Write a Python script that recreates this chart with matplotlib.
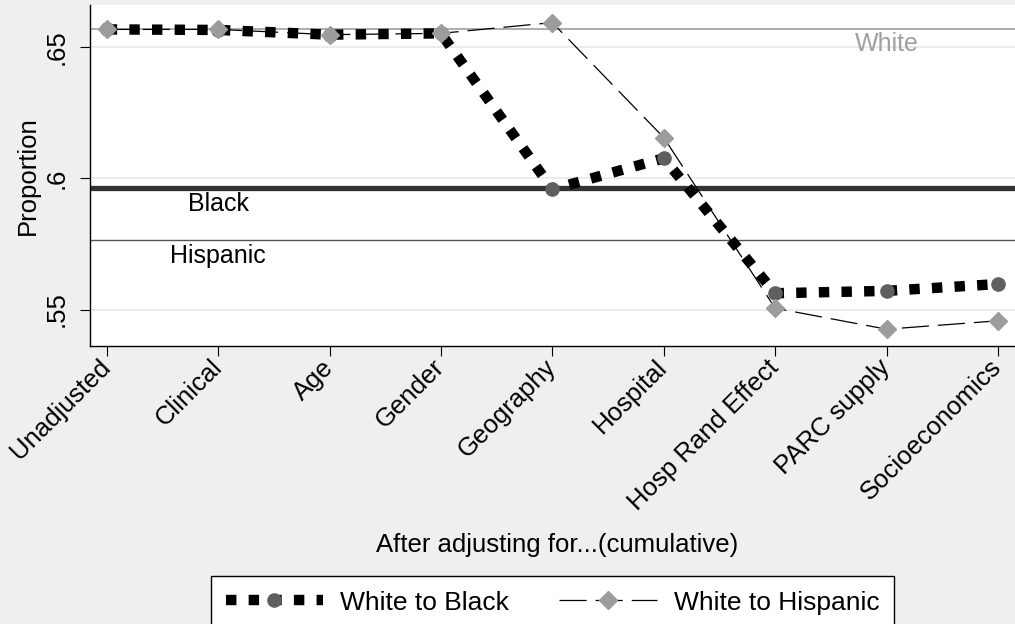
import matplotlib
matplotlib.use('Agg')
import matplotlib.pyplot as plt

plt.rcParams['font.family'] = ['Liberation Sans', 'DejaVu Sans']
plt.rcParams['lines.scale_dashes'] = False

# data
steps = ['Unadjusted', 'Clinical', 'Age', 'Gender', 'Geography', 'Hospital',
         'Hosp Rand Effect', 'PARC supply', 'Socioeconomics']
white_to_black = [0.6567, 0.6565, 0.6547, 0.6552, 0.5958, 0.6076, 0.5562, 0.5571, 0.5597]
white_to_hispanic = [0.6567, 0.6567, 0.6547, 0.6552, 0.6593, 0.6155, 0.5505, 0.5425, 0.5457]

ref_names = ['White', 'Black', 'Hispanic']
ref_values = [0.6567, 0.5964, 0.5766]
ref_label_y = [0.6510, 0.5902, 0.5702]
ref_label_x = [7, 1, 1]

y_ticks = [0.55, 0.6, 0.65]
y_tick_labels = ['.55', '.6', '.65']

fig = plt.figure(figsize=(10.15, 6.24), dpi=100)
fig.patch.set_facecolor('#efefef')
ax = fig.add_axes([90 / 1015, 1 - 346 / 624, 925 / 1015, 341 / 624])
ax.set_facecolor('white')

x = list(range(len(steps)))

# grid
for yt in y_ticks:
    ax.axhline(yt, color='#e8e8e8', lw=1.2, zorder=0)

# reference lines
ref_styles = [dict(color='#a0a0a0', lw=1.2), dict(color='#333333', lw=3.8),
              dict(color='#555555', lw=1.0)]
ref_text_colors = ['#a0a0a0', 'black', 'black']
for v, st in zip(ref_values, ref_styles):
    ax.axhline(v, zorder=1, **st)
for name, tx, ty, c in zip(ref_names, ref_label_x, ref_label_y, ref_text_colors):
    ax.text(tx, ty, name, color=c, fontsize=18, ha='center', va='center', zorder=2)

# series
ax.plot(x, white_to_black, color='black', lw=7.5, dashes=(7.5, 8.8),
        dash_capstyle='butt', marker='o', markersize=9.5,
        markerfacecolor='#5f5f5f', markeredgecolor='#5f5f5f',
        label='White to Black', zorder=3)
ax.plot(x, white_to_hispanic, color='black', lw=0.9, dashes=(19.5, 6.5),
        marker='D', markersize=9.2,
        markerfacecolor='#9c9c9c', markeredgecolor='#9c9c9c',
        label='White to Hispanic', zorder=4)

ax.set_xlim(-0.15, 8.153)
ax.set_ylim(0.5361, 0.666)

ax.set_xticks(x)
ax.set_xticklabels(steps, rotation=45, ha='right', va='center',
                   rotation_mode='anchor', fontsize=18.5)
ax.set_yticks(y_ticks)
ax.set_yticklabels(y_tick_labels, rotation=90, va='center', fontsize=18.5)
ax.tick_params(axis='both', direction='out', length=7.2, width=0.8, color='black')
ax.tick_params(axis='x', pad=5.5)
ax.tick_params(axis='y', pad=8.5)

for s in ['top', 'right']:
    ax.spines[s].set_visible(False)
for s in ['left', 'bottom']:
    ax.spines[s].set_linewidth(1.0)

ax.set_ylabel('Proportion', fontsize=18.5, va='center')
ax.yaxis.set_label_coords(-62 / 925, 0.5)
ax.set_xlabel('After adjusting for...(cumulative)', fontsize=18.5, va='center')
ax.xaxis.set_label_coords(0.505, -199 / 341)

leg = fig.legend(loc='upper center', bbox_to_anchor=(552.5 / 1015, 1 - 576 / 624),
                 ncol=2, fontsize=19, frameon=True, fancybox=False, framealpha=1,
                 edgecolor='black', handlelength=3.7, handletextpad=0.64,
                 columnspacing=1.9, borderpad=0.55, borderaxespad=0, numpoints=1)
leg.get_frame().set_linewidth(1.0)

fig.savefig('out.png', dpi=100, facecolor=fig.get_facecolor())
